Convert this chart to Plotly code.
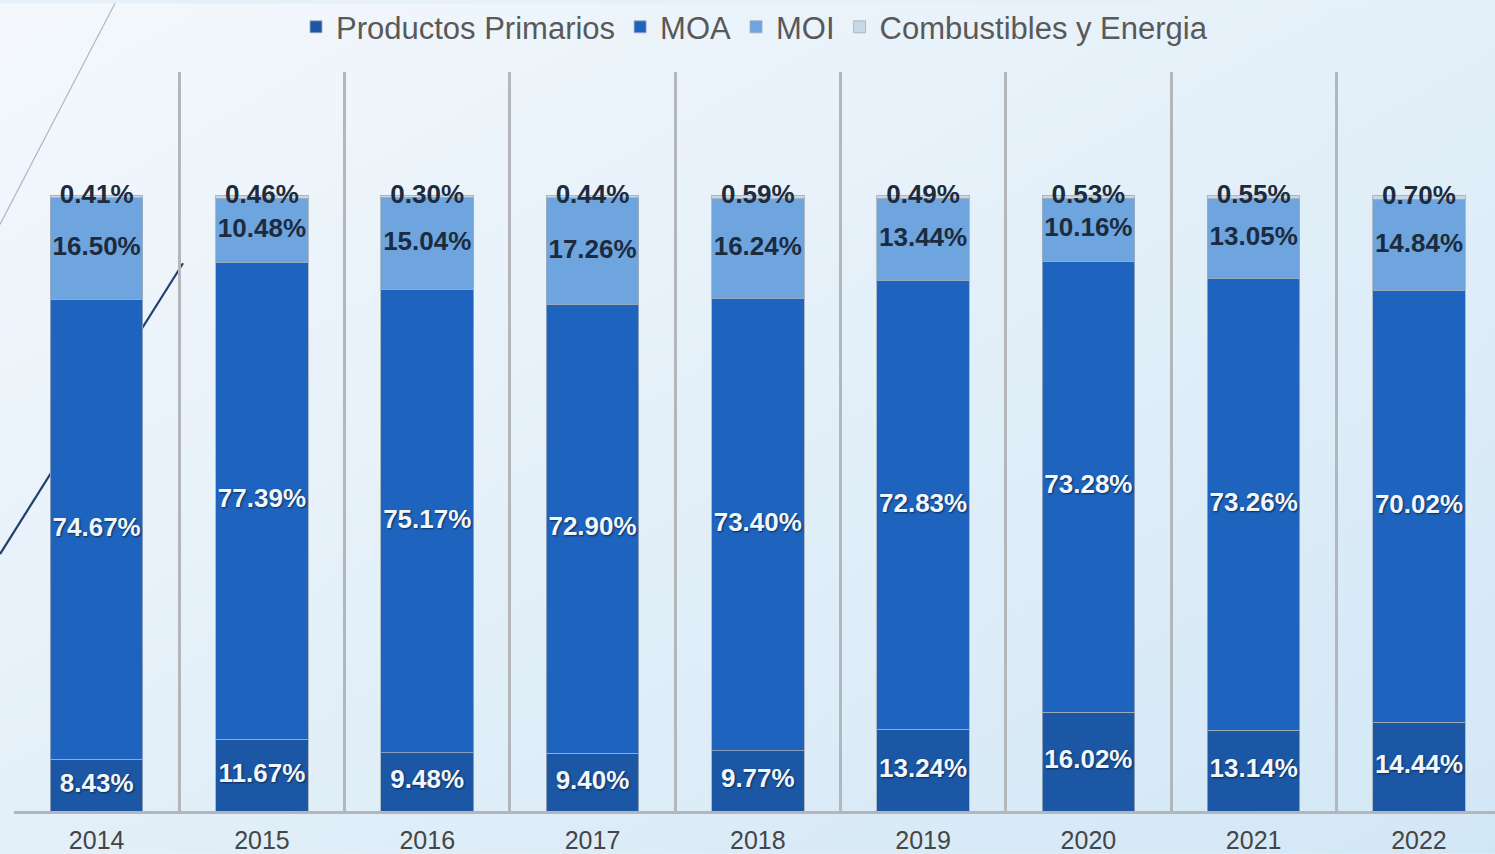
import base64
import plotly.graph_objects as go

years = ["2014", "2015", "2016", "2017", "2018", "2019", "2020", "2021", "2022"]
productos_primarios = [8.43, 11.67, 9.48, 9.40, 9.77, 13.24, 16.02, 13.14, 14.44]
moa = [74.67, 77.39, 75.17, 72.90, 73.40, 72.83, 73.28, 73.26, 70.02]
moi = [16.50, 10.48, 15.04, 17.26, 16.24, 13.44, 10.16, 13.05, 14.84]
combustibles = [0.41, 0.46, 0.30, 0.44, 0.59, 0.49, 0.53, 0.55, 0.70]

series = [
    ("Productos Primarios", productos_primarios, "#1b57a5", "#f2f7fd"),
    ("MOA", moa, "#1e64be", "#f2f7fd"),
    ("MOI", moi, "#6ea5de", "#1c2b3e"),
    ("Combustibles y Energia", combustibles, "#c8d7e6", "#1c2b3e"),
]

W, H = 1495, 854
ML, MR, MT, MB = 14, 0, 69, 43
PW, PH = W - ML - MR, H - MT - MB

def px2paper(px, py):
    return (px - ML) / PW, (H - MB - py) / PH

fig = go.Figure()

# background gradient
svg = f'''<svg xmlns="http://www.w3.org/2000/svg" width="{W}" height="{H}">
<defs><linearGradient id="g" x1="0" y1="0" x2="1" y2="1">
<stop offset="0" stop-color="#f4f8fc"/><stop offset="1" stop-color="#d2e7f6"/></linearGradient></defs>
<rect width="{W}" height="{H}" fill="url(#g)"/></svg>'''
src = "data:image/svg+xml;base64," + base64.b64encode(svg.encode()).decode()
x0, y1 = px2paper(0, 0)
fig.add_layout_image(source=src, xref="paper", yref="paper", x=x0, y=y1,
                     sizex=W / PW, sizey=H / PH, xanchor="left", yanchor="top",
                     sizing="stretch", layer="below")

# bars
for name, vals, color, _ in series:
    fig.add_trace(go.Bar(
        x=years, y=vals, name=name,
        marker=dict(color=color, line=dict(color="rgba(160,172,186,0.8)", width=1)),
        width=0.56, hoverinfo="skip",
    ))

# labels
base = [0.0] * len(years)
for name, vals, color, tcolor in series:
    mids = [b + v / 2 for b, v in zip(base, vals)]
    shadow = "1px 1px 2px #0b2a55" if tcolor != "#1c2b3e" else "none"
    fig.add_trace(go.Scatter(
        x=years, y=mids, mode="text",
        text=[f"{v:.2f}%" for v in vals],
        textposition="middle center",
        textfont=dict(family="Liberation Sans, Arial", size=26, color=tcolor,
                      weight="bold", shadow=shadow),
        showlegend=False, hoverinfo="skip",
    ))
    base = [b + v for b, v in zip(base, vals)]

# decorative slide lines
a = px2paper(115, 0); b = px2paper(0, 222)
fig.add_shape(type="line", xref="paper", yref="paper", x0=a[0], y0=a[1], x1=b[0], y1=b[1],
              line=dict(color="#a9bace", width=1.2), layer="below")
a = px2paper(183, 261); b = px2paper(0, 553)
fig.add_shape(type="line", xref="paper", yref="paper", x0=a[0], y0=a[1], x1=b[0], y1=b[1],
              line=dict(color="#1f3f6e", width=2.2), layer="below")

fig.update_layout(
    width=W, height=H,
    margin=dict(l=ML, r=MR, t=MT, b=MB),
    barmode="stack",
    paper_bgcolor="#e6f0f9",
    plot_bgcolor="rgba(0,0,0,0)",
    font=dict(family="Liberation Sans, Arial"),
    legend=dict(orientation="h", x=0.5, xanchor="center", y=px2paper(0, 24)[1],
                yanchor="middle", font=dict(size=31, color="#595959"),
                bgcolor="rgba(0,0,0,0)", itemwidth=30, traceorder="normal"),
    xaxis=dict(type="category", range=[-0.5, 8.46], tickson="boundaries",
               showgrid=True, gridcolor="#b3b7bc", gridwidth=3,
               showline=True, linecolor="#b3b7bc", linewidth=3,
               ticks="", tickfont=dict(size=25, color="#454545"),
               ticklabelstandoff=5),
    yaxis=dict(range=[0, 120], visible=False, showgrid=False, zeroline=False),
)

fig.write_html("out.html", config={"displayModeBar": False},
               post_script="document.body.style.margin='0';document.body.style.overflow='hidden';")
